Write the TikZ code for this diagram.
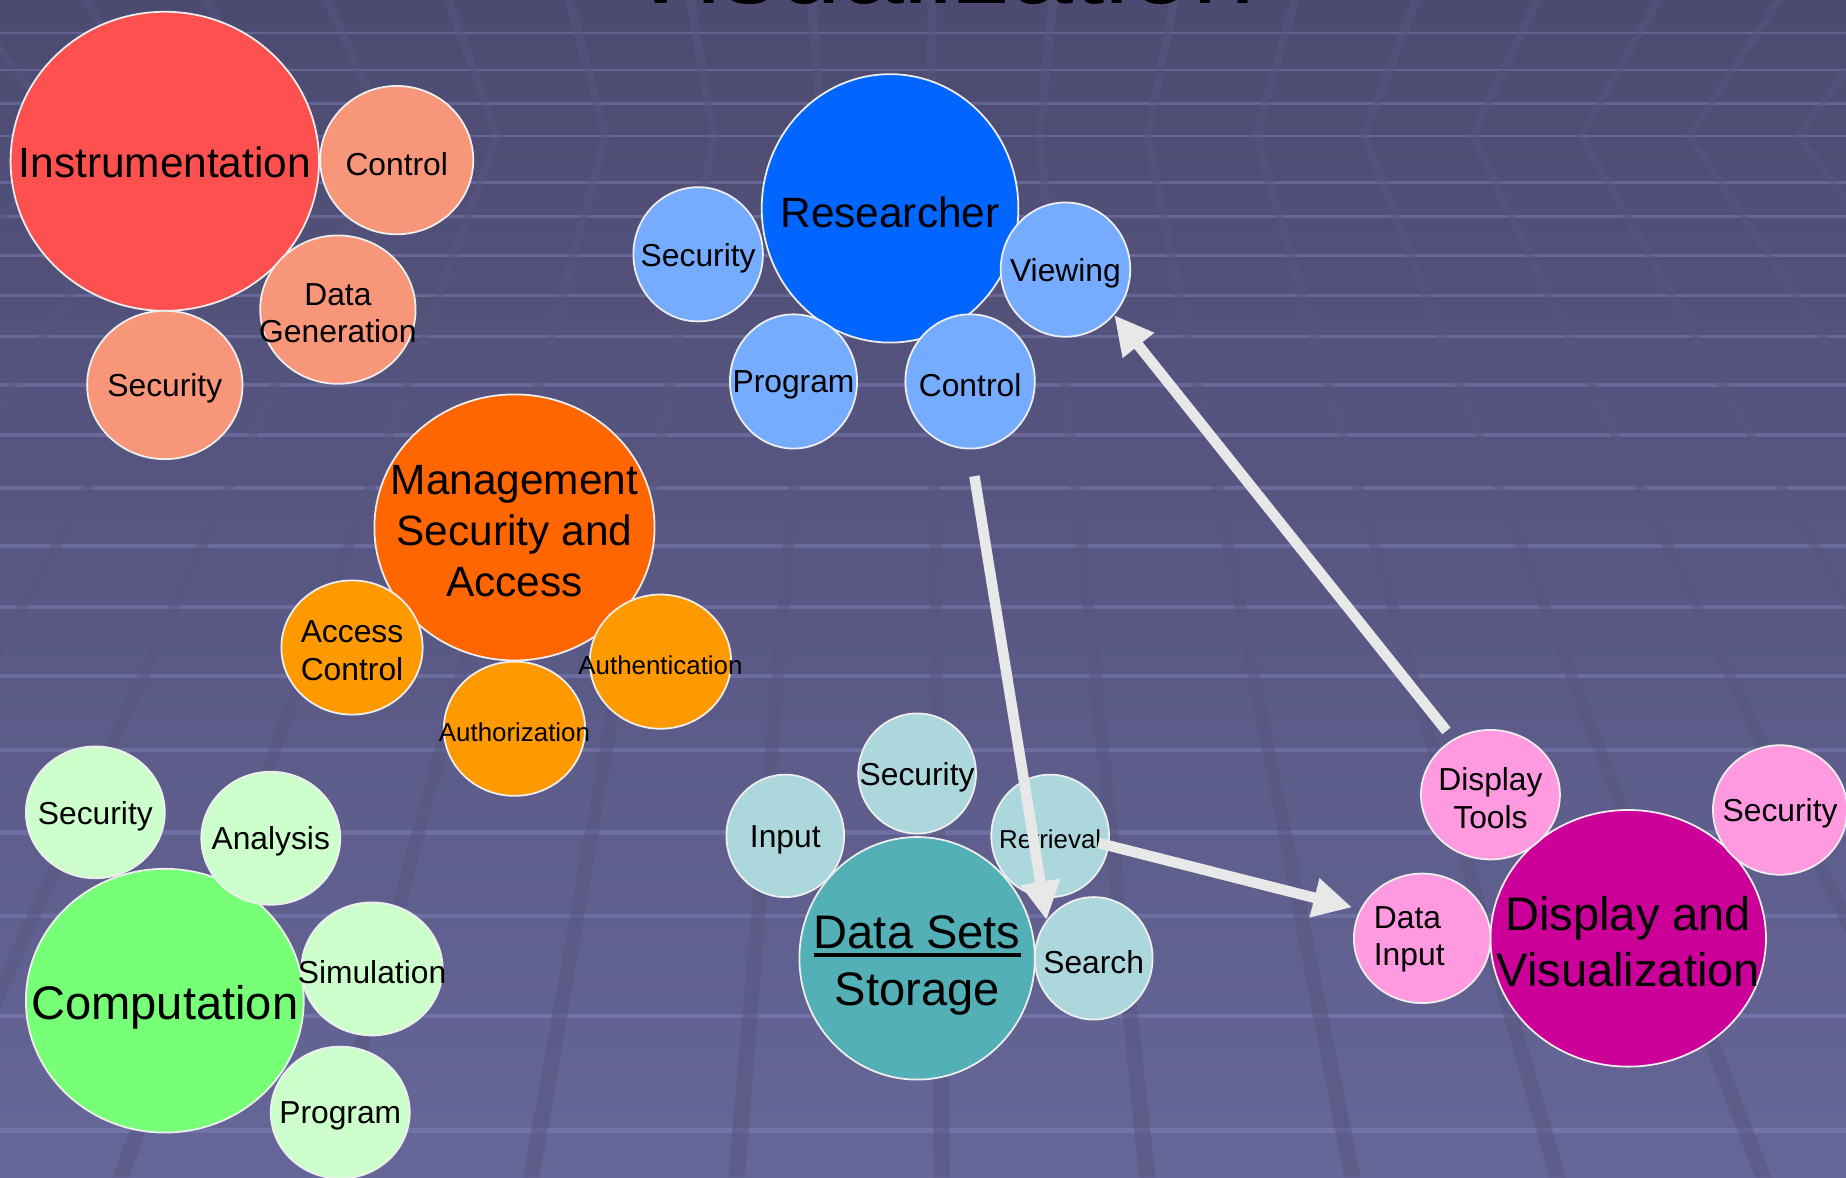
\documentclass[tikz,border=0pt]{standalone}
\usepackage{fontspec}
\setmainfont{Liberation Sans}
\usetikzlibrary{shapes.geometric,arrows.meta}
\definecolor{bgtop}{RGB}{76,74,112}
\definecolor{bgbot}{RGB}{102,102,152}
\definecolor{hlinec}{RGB}{140,138,200}
\definecolor{bandc}{RGB}{88,86,128}
\definecolor{cInstr}{RGB}{255,80,80}
\definecolor{cInstrS}{RGB}{248,150,122}
\definecolor{cRes}{RGB}{0,102,255}
\definecolor{cResS}{RGB}{117,172,255}
\definecolor{cMan}{RGB}{255,102,0}
\definecolor{cManS}{RGB}{255,153,0}
\definecolor{cComp}{RGB}{119,255,119}
\definecolor{cCompS}{RGB}{204,255,204}
\definecolor{cData}{RGB}{82,176,182}
\definecolor{cDataS}{RGB}{172,215,220}
\definecolor{cDisp}{RGB}{204,0,153}
\definecolor{cDispS}{RGB}{255,153,224}
\definecolor{arrowc}{RGB}{232,232,232}
\definecolor{outlinec}{RGB}{238,238,238}
\newcommand{\ulx}[1]{\setbox0\hbox{#1}\rlap{\rule[-7pt]{\wd0}{3pt}}\box0}
\newcommand{\bubble}[7]{%
  \node[bubshape,fill=#1,minimum width=#4,minimum height=#5] (#2) at (#3) {};
  \node[bubtext,#6] (#2-t) at (#2.center) {#7};}
\begin{document}
\begin{tikzpicture}[x=1pt,y=-1pt,
  bubshape/.style={ellipse,draw=outlinec,line width=1.5pt,inner sep=0pt},
  bubtext/.style={align=center,inner sep=0pt,text=black,yshift=-3pt},
  f22/.style={font=\fontsize{22}{27}\selectfont},
  f27/.style={font=\fontsize{27}{32}\selectfont},
  f36/.style={font=\fontsize{36}{43.5}\selectfont},
  f40/.style={font=\fontsize{40}{48}\selectfont},
  arr/.style={draw=arrowc,line width=9pt,-{Triangle[length=33pt,width=32pt]}},
  hline/.style={draw=hlinec,draw opacity=0.38},
  band/.style={fill=bandc,fill opacity=0.55}]
\useasboundingbox (0,0) rectangle (1568,1000);
\clip (0,0) rectangle (1568,1000);
% background
\shade[top color=bgtop,bottom color=bgbot] (0,0) rectangle (1568,1000);
\foreach \yy in {28,59.5,88,115.5,155,184,217,251,286,327,369.5,414.5,464,515.5,574,637,707,778,863,960}{
  \pgfmathsetmacro\lw{2.2+\yy/450}
  \draw[hline,line width=\lw pt] (0,\yy) -- (1568,\yy);
}
\foreach \k in {-9,...,8}{
  \pgfmathsetmacro\xa{793+113*\k}
  \pgfmathsetmacro\sl{(\xa-780)/1215}
  \pgfmathsetmacro\xv{780+990*\sl}
  \pgfmathsetmacro\xt{\xv+115*\sl}
  \pgfmathsetmacro\xb{\xv+885*\sl}
  \fill[band] (\xt-4,0) -- (\xt+4,0) -- (\xv+3.5,115) -- (\xb+7,1000) -- (\xb-7,1000) -- (\xv-3.5,115) -- cycle;
}
% title (cut off at the top, as in the source slide)
\node[font=\fontsize{96}{110}\selectfont,anchor=base,inner sep=0pt] (title) at (798,3) {Visualization};
% Instrumentation
\bubble{cInstr}{instr}{140,137}{262pt}{254pt}{f36,yshift=2pt}{Instrumentation}
\bubble{cInstrS}{iCtl}{337,136}{130pt}{126pt}{f27}{Control}
\bubble{cInstrS}{iGen}{287,263}{132pt}{126pt}{f27}{Data\\Generation}
\bubble{cInstrS}{iSec}{140,327}{132pt}{126pt}{f27}{Security}
% Researcher
\bubble{cRes}{res}{756,177}{218pt}{228pt}{f36}{Researcher}
\bubble{cResS}{rSec}{593,216}{110pt}{114pt}{f27}{Security}
\bubble{cResS}{rView}{905,229}{110pt}{114pt}{f27}{Viewing}
\bubble{cResS}{rProg}{674,324}{108pt}{114pt}{f27}{Program}
\bubble{cResS}{rCtl}{824,324}{110pt}{114pt}{f27}{Control}
% Management
\bubble{cMan}{mgmt}{437,448}{238pt}{226pt}{f36}{Management\\Security and\\Access}
\bubble{cManS}{mAcc}{299,550}{120pt}{114pt}{f27}{Access\\Control}
\bubble{cManS}{mAuthn}{561,562}{120pt}{114pt}{f22}{Authentication}
\bubble{cManS}{mAuthz}{437,619}{120pt}{114pt}{f22}{Authorization}
% Computation
\bubble{cComp}{comp}{140,850}{236pt}{224pt}{f40,yshift=-3pt}{Computation}
\bubble{cCompS}{cSec}{81,690}{118pt}{112pt}{f27}{Security}
\bubble{cCompS}{cAna}{230,712}{118pt}{113pt}{f27}{Analysis}
\bubble{cCompS}{cSim}{316,823}{120pt}{113pt}{f27}{Simulation}
\bubble{cCompS}{cProg}{289,945}{118pt}{112pt}{f27}{Program}
% Data sets
\bubble{cData}{data}{779,814}{200pt}{206pt}{f40,yshift=-3pt}{\ulx{Data Sets}\\Storage}
\bubble{cDataS}{dSec}{779,657}{100pt}{102pt}{f27}{Security}
\bubble{cDataS}{dIn}{667,710}{100pt}{104pt}{f27}{Input}
\bubble{cDataS}{dRet}{892,710}{100pt}{104pt}{f22}{Retrieval}
\bubble{cDataS}{dSrch}{929,814}{100pt}{104pt}{f27}{Search}
% Display
\bubble{cDisp}{disp}{1383,797}{234pt}{218pt}{f40}{Display and\\Visualization}
\bubble{cDispS}{vTools}{1266,675}{118pt}{110pt}{f27}{Display\\Tools}
\bubble{cDispS}{vSec}{1512,688}{114pt}{110pt}{f27}{Security}
\bubble{cDispS}{vIn}{1208,797}{116pt}{110pt}{f27,align=left,xshift=-11pt,yshift=2pt}{Data\\Input}
% arrows
\coordinate (a3s) at (933,716);
\draw[arr,shorten <=23pt] (rCtl.south) -- (dSrch.141);
\draw[arr,shorten <=9pt] (vTools.124) -- (rView.-43);
\draw[arr,shorten >=7pt] (a3s) -- (vIn.155);
\end{tikzpicture}
\end{document}
